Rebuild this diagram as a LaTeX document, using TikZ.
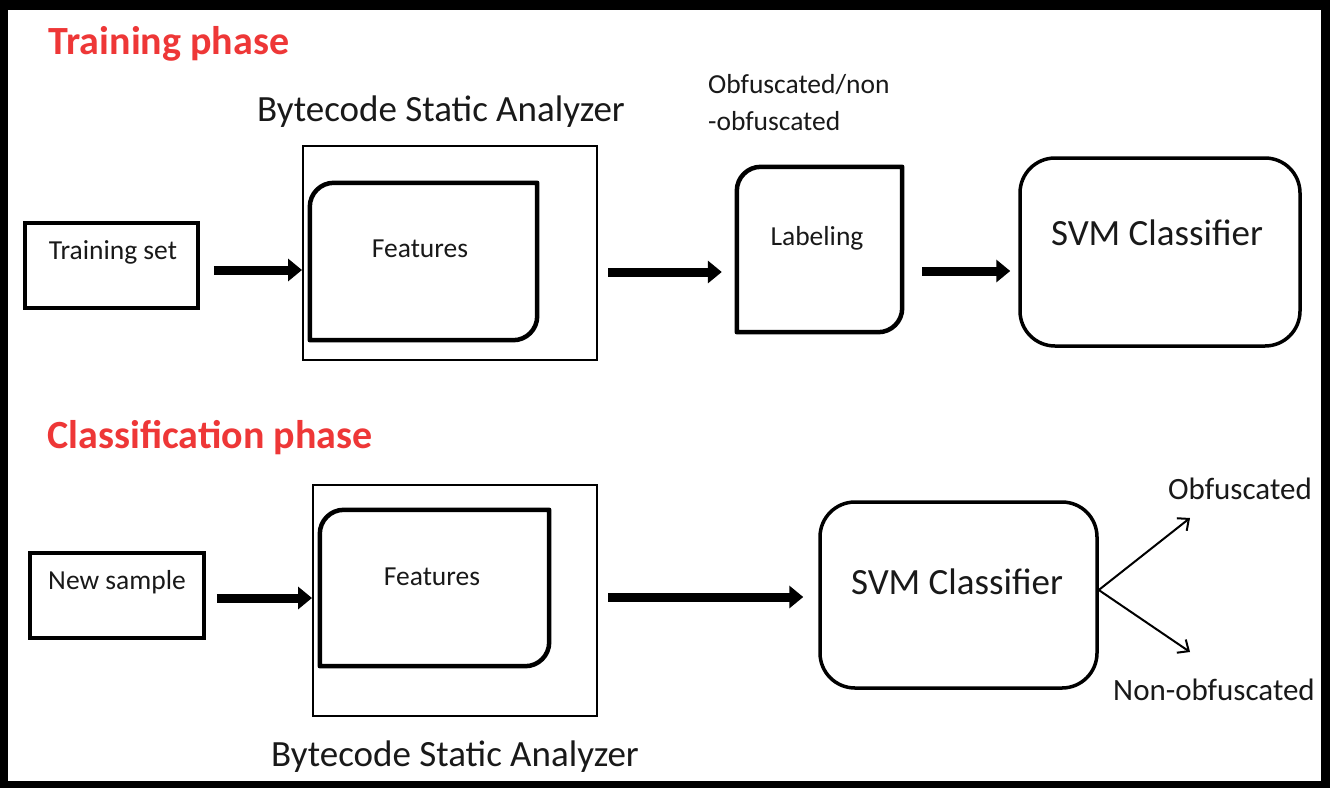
\documentclass[tikz,border=0pt]{standalone}
\usepackage{fontspec}
\setmainfont{Carlito}
\usetikzlibrary{arrows.meta,calc}
\definecolor{titlered}{RGB}{238,55,55}
\definecolor{ink}{RGB}{25,25,25}
\newcommand{\cardoutline}[2]{\draw[cardline] (#1.south west) -- ([yshift=-#2]#1.north west) arc[start angle=180,end angle=90,radius=#2] -- (#1.north east) -- ([yshift=#2]#1.south east) arc[start angle=0,end angle=-90,radius=#2] -- cycle;}
\begin{document}
\begin{tikzpicture}[x=1pt,y=-1pt,
  title/.style={font=\fontsize{40}{44}\selectfont\bfseries, text=titlered, inner sep=0pt},
  small/.style={font=\fontsize{27.5}{31}\selectfont, text=ink, inner sep=0pt},
  big/.style={font=\fontsize{37}{42}\selectfont, text=ink, inner sep=0pt},
  outcome/.style={font=\fontsize{31}{35}\selectfont, text=ink, inner sep=0pt},
  outerbox/.style={draw, line width=2pt, inner sep=0pt},
  plainbox/.style={draw, line width=3.5pt, inner sep=0pt},
  shapebox/.style={inner sep=0pt},
  svmbox/.style={draw, line width=3.5pt, rounded corners=35pt, inner sep=0pt},
  cardline/.style={line width=4.5pt, line join=round},
  bigarrow/.style={line width=9pt, -{Triangle[length=14pt,width=22pt]}},
  thinarrow/.style={line width=2pt, -{Straight Barb[length=9pt,width=16pt]}}
]
\fill[black] (0,0) rectangle (1330,788);
\fill[white] (8,10) rectangle (1321,781);
\useasboundingbox (0,0) rectangle (1330,788);

% ---------- Training phase ----------
\node[title] (t1) at (169,44) {Training phase};
\node[big] (bsa1) at (441,112) {Bytecode Static Analyzer};
\node[outerbox, minimum width=294pt, minimum height=214pt] (oa) at (450,253) {};
\node[shapebox, minimum width=227pt, minimum height=157pt] (fa) at (423.5,261.5) {};
\cardoutline{fa}{24pt}
\node[small] (fat) at (420,249) {Features};
\node[plainbox, minimum width=173pt, minimum height=85pt] (ts) at (111.5,265.5) {};
\node[small] (tst) at (113,252) {Training set};
\node[small, anchor=base west] (ob1) at (708,93) {Obfuscated/non};
\node[small, anchor=base west] (ob2) at (708,130) {-obfuscated};
\node[shapebox, minimum width=165pt, minimum height=165pt] (lab) at (819.5,249.5) {};
\cardoutline{lab}{24pt}
\node[small] (labt) at (817,238) {Labeling};
\node[svmbox, minimum width=280pt, minimum height=188pt] (svma) at (1160,252) {};
\node[big] (svmat) at (1157,233) {SVM Classifier};

\draw[bigarrow, shorten <=14pt] ([yshift=-4.5pt]ts.east) -- ([yshift=-4.5pt]ts.east -| oa.west);
\draw[bigarrow, shorten <=10pt, shorten >=15pt] ([yshift=-19pt]oa.east) -- ([yshift=-19pt]oa.east -| lab.west);
\draw[bigarrow, shorten <=20pt, shorten >=8pt] ([yshift=-21.5pt]lab.east) -- ([yshift=-21.5pt]lab.east -| svma.west);

% ---------- Classification phase ----------
\node[title] (t2) at (210,438) {Classification phase};
\node[outerbox, minimum width=284pt, minimum height=231pt] (ob) at (455,600.5) {};
\node[shapebox, minimum width=229pt, minimum height=156pt] (fb) at (434.5,588) {};
\cardoutline{fb}{24pt}
\node[small] (fbt) at (432,577) {Features};
\node[plainbox, minimum width=174pt, minimum height=85pt] (ns) at (117,595.5) {};
\node[small] (nst) at (117,582) {New sample};
\node[svmbox, minimum width=277pt, minimum height=186pt] (svmb) at (958.5,595) {};
\node[big] (svmbt) at (957,582) {SVM Classifier};
\node[big] (bsa2) at (455,757) {Bytecode Static Analyzer};

\draw[bigarrow, shorten <=11pt] ([yshift=-2.5pt]ns.east) -- ([yshift=-2.5pt]ns.east -| ob.west);
\draw[bigarrow, shorten <=10pt, shorten >=15pt] ([yshift=3.5pt]ob.east) -- ([yshift=3.5pt]ob.east -| svmb.west);

\coordinate (o1) at (1190,518);
\coordinate (o2) at (1190,652);
\draw[thinarrow] ([yshift=5pt]svmb.east) -- (o1);
\draw[thinarrow] ([yshift=5pt]svmb.east) -- (o2);
\node[outcome] (obf) at (1240,489) {Obfuscated};
\node[outcome] (nobf) at (1214,690) {Non-obfuscated};
\end{tikzpicture}
\end{document}
